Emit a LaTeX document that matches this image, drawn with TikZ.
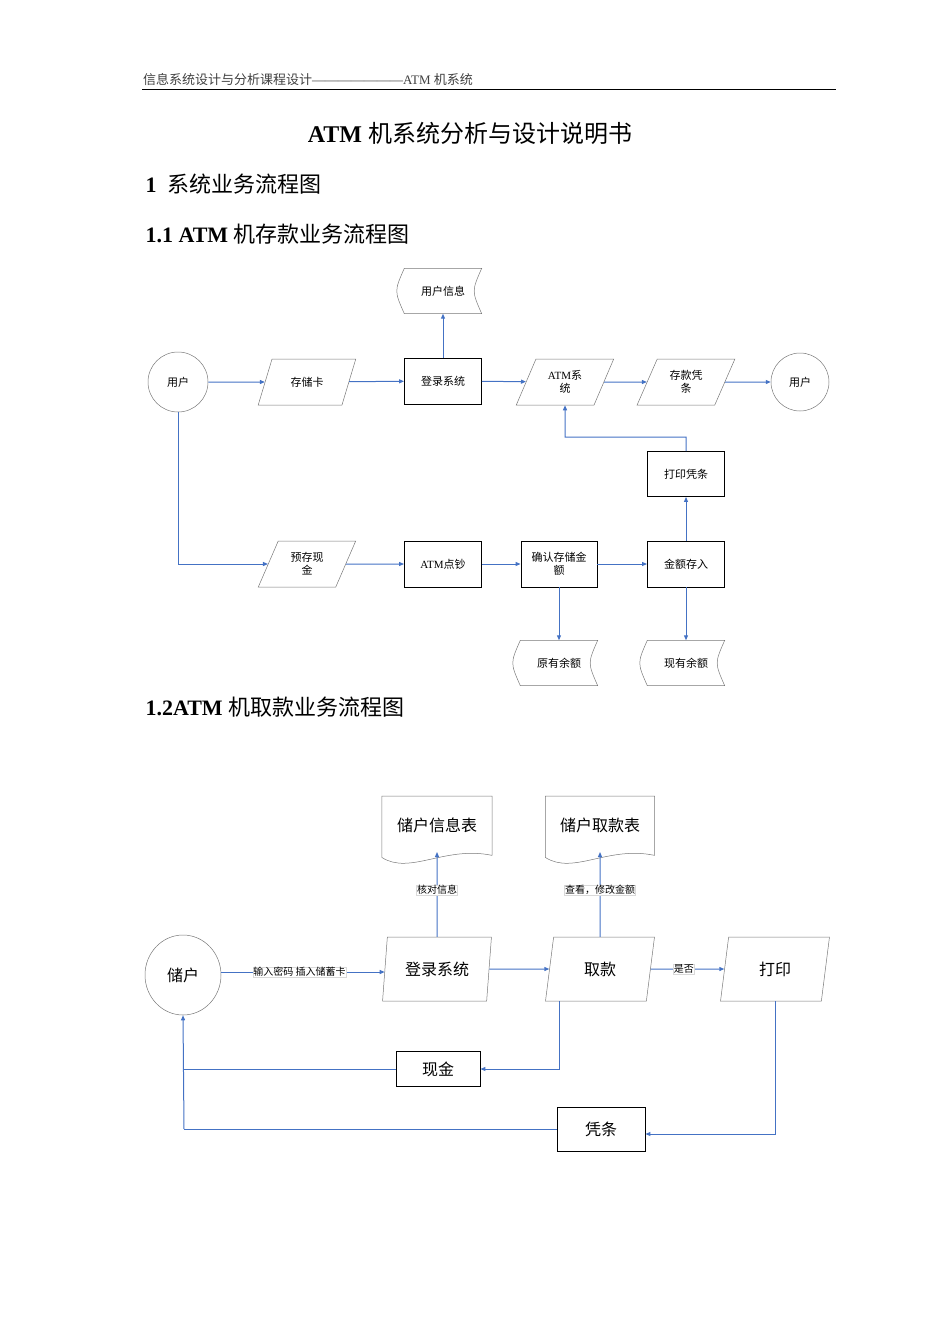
\documentclass[tikz,border=0pt]{standalone}
\usepackage{fontspec}
\setmainfont{Liberation Serif}
\newfontfamily\cjk{Noto Sans CJK SC}
\newcommand{\zh}[1]{{\cjk #1}}
\usetikzlibrary{shapes.geometric,arrows.meta,calc}
\definecolor{lnblue}{RGB}{68,114,196}
\definecolor{gborder}{RGB}{120,120,120}
\begin{document}
\begin{tikzpicture}[x=1pt,y=-1pt,
  conn/.style={draw=lnblue,line width=1pt,-{Triangle[length=5pt,width=4pt]}},
  line/.style={draw=lnblue,line width=1pt},
  para/.style={trapezium,trapezium left angle=65,trapezium right angle=115,trapezium stretches=true,draw=gborder,line width=0.5pt,align=center,font=\fontsize{11}{13}\selectfont},
  box/.style={rectangle,draw=black,line width=0.9pt,align=center,font=\fontsize{11}{13}\selectfont},
  circ/.style={ellipse,draw=gborder,line width=0.5pt,font=\fontsize{11}{13}\selectfont},
  store/.style={rectangle,minimum width=77pt,minimum height=45pt,font=\fontsize{11}{13}\selectfont},
  lbl/.style={fill=white,draw=black!15,line width=0.3pt,inner sep=0.5pt,font=\fontsize{10}{12}\selectfont}
]
\useasboundingbox (0,0) rectangle (950,1344);
% header
\node[anchor=west,font=\fontsize{13}{15}\selectfont,text=black!75,inner sep=1pt] (hdr) at (142,80) {\zh{信息系统设计与分析课程设计}———————ATM \zh{机系统}};
\draw[line width=0.8pt] (142,89) -- (836,89);
\node[font=\fontsize{24}{28}\selectfont] (title) at (470,133) {\textbf{ATM} \zh{机系统分析与设计说明书}};
\node[anchor=west,font=\fontsize{22}{26}\selectfont] (h1) at (142,184) {\textbf{1}\ \ \zh{系统业务流程图}};
\node[anchor=west,font=\fontsize{22}{26}\selectfont] (h11) at (142,234) {\textbf{1.1 ATM} \zh{机存款业务流程图}};
\node[anchor=west,font=\fontsize{22}{26}\selectfont] (h12) at (142,707) {\textbf{1.2ATM} \zh{机取款业务流程图}};

% ---------- diagram 1
\node[circ,minimum width=60pt,minimum height=60pt] (u1) at (178,382) {\zh{用户}};
\node[circ,minimum width=58pt,minimum height=58pt] (u2) at (800,382) {\zh{用户}};
\node[para,minimum width=98pt,minimum height=46pt] (card) at (307,382) {\zh{存储卡}};
\node[box,minimum width=77pt,minimum height=46pt] (login) at (443,381) {\zh{登录系统}};
\node[para,minimum width=98pt,minimum height=46pt] (atm) at (565,382) {ATM\zh{系}\\\zh{统}};
\node[para,minimum width=98pt,minimum height=46pt] (slip) at (686,382) {\zh{存款凭}\\\zh{条}};
\node[box,minimum width=77pt,minimum height=45pt] (print) at (686,474) {\zh{打印凭条}};
\node[para,minimum width=98pt,minimum height=46pt] (cash) at (307,564) {\zh{预存现}\\\zh{金}};
\node[box,minimum width=77pt,minimum height=46pt] (count) at (443,564) {ATM\zh{点钞}};
\node[box,minimum width=76pt,minimum height=46pt,inner sep=1pt] (confirm) at (559,564) {\zh{确认存储金}\\\zh{额}};
\node[box,minimum width=77pt,minimum height=46pt] (deposit) at (686,564) {\zh{金额存入}};
\node[store] (uinfo) at (443,291) {\zh{用户信息}};
\node[store] (old) at (559,663) {\zh{原有余额}};
\node[store] (new) at (686,663) {\zh{现有余额}};
\foreach \s in {uinfo,old,new}{
  \draw[gborder,line width=0.5pt] (\s.north west) -- (\s.north east)
    .. controls ($(\s.east)+(-10,0)$) .. (\s.south east) -- (\s.south west)
    .. controls ($(\s.west)+(-10,0)$) .. (\s.north west);
}
\draw[conn] (u1) -- (card);
\draw[conn] (card) -- (login);
\draw[conn] (login) -- (atm);
\draw[conn] (atm) -- (slip);
\draw[conn] (slip) -- (u2);
\draw[conn] (login) -- (uinfo);
\draw[conn] (u1.south) |- (cash);
\draw[conn] (cash) -- (count);
\draw[conn] (count) -- (confirm);
\draw[conn] (confirm) -- (deposit);
\draw[conn] (confirm) -- (old);
\draw[conn] (deposit) -- (new);
\draw[conn] (deposit) -- (print);
\coordinate (k1) at (686,437);
\coordinate (k2) at (565,437);
\draw[conn] (print.north) -- (k1) -- (k2) -- (atm.south);

% ---------- diagram 2
\tikzset{para2/.style={para,trapezium left angle=81,trapezium right angle=99,minimum width=109pt,minimum height=64pt,font=\fontsize{16}{19}\selectfont},
  box2/.style={box,font=\fontsize{16}{19}\selectfont}}
\node[circ,minimum width=76pt,minimum height=80pt,font=\fontsize{16}{19}\selectfont] (cust) at (183,975) {\zh{储户}};
\node[para2] (login2) at (437,969) {\zh{登录系统}};
\node[para2] (take) at (600,969) {\zh{取款}};
\node[para2] (prt) at (775,969) {\zh{打印}};
\node[box2,minimum width=84pt,minimum height=35pt] (money) at (438,1069) {\zh{现金}};
\node[box2,minimum width=88pt,minimum height=44pt] (rcpt) at (601,1129) {\zh{凭条}};
\node[anchor=north,minimum width=110pt,minimum height=50pt,font=\fontsize{16}{19}\selectfont,inner sep=0pt,text depth=28pt,text height=35pt] (doc1) at (437,796) {\zh{储户信息表}};
\node[anchor=north,minimum width=109pt,minimum height=50pt,font=\fontsize{16}{19}\selectfont,inner sep=0pt,text depth=28pt,text height=35pt] (doc2) at (600,796) {\zh{储户取款表}};
\foreach \d in {doc1,doc2}{
  \draw[gborder,line width=0.5pt] ($(\d.south east)+(0,-4)$) -- (\d.north east) -- (\d.north west) -- ($(\d.south west)+(0,-2)$)
   .. controls ($(\d.south west)+(28,16)$) and ($(\d.south)+(8,-14)$) .. ($(\d.south east)+(0,-4)$);
}
\coordinate (d1b) at (437,852);
\coordinate (d2b) at (600,852);
\draw[conn] (login2.north) -- node[lbl,pos=0.55] {\zh{核对信息}} (d1b);
\draw[conn] (take.north) -- node[lbl,pos=0.55] {\zh{查看，修改金额}} (d2b);
\coordinate (c1) at (221,972);
\draw[conn] (c1) -- node[lbl,pos=0.48] {\zh{输入密码 插入储蓄卡}} (login2.west |- c1);
\draw[conn] (login2) -- (take);
\draw[conn] (take) -- node[lbl,pos=0.45] {\zh{是否}} (prt);
\coordinate (t1) at (559,1001);
\draw[conn] (t1) |- (money.east);
\coordinate (p1) at (775,1001);
\coordinate (p2) at (775,1134);
\draw[conn] (p1) -- (p2) -- (rcpt.east |- p2);
\coordinate (m1) at (184,1069);
\coordinate (r1) at (184,1129);
\draw[line] (money.west) -- (m1);
\draw[line] (rcpt.west |- r1) -- (r1);
\draw[conn] (r1) -- (cust.south);
\end{tikzpicture}
\end{document}
